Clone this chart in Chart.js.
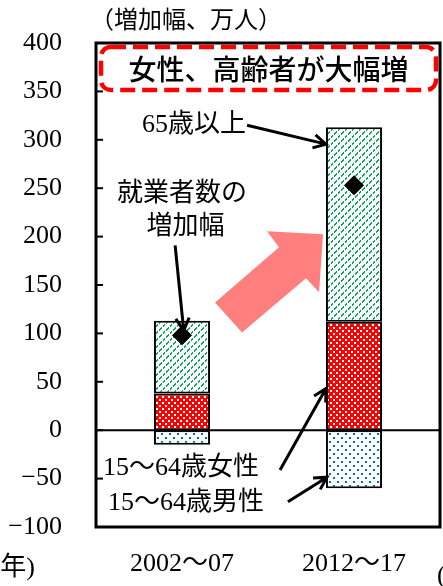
<!DOCTYPE html>
<html lang="ja">
<head>
<meta charset="utf-8">
<script src="https://cdn.jsdelivr.net/npm/chart.js@4.4.1/dist/chart.umd.min.js"></script>
<style>
  html, body { margin: 0; padding: 0; background: #fff; overflow: hidden; }
  #wrap { width: 443px; height: 586px; position: relative; }
  #chart { display: block; }
</style>
</head>
<body>
<div id="wrap"><canvas id="chart"></canvas></div>
<script>
/* 就業者数の増加幅（万人） */
const periods = ["2002〜07", "2012〜17"];
const male1564 = [-15, -60];
const female1564 = [38, 112];
const age65plus = [75, 201];
const employedTotal = [98, 253];
const seriesNames = ["15〜64歳男性", "15〜64歳女性", "65歳以上", "就業者数の増加幅"];
const yMin = -100, yMax = 400, yStep = 50;

const SERIF = "'Liberation Serif', 'Noto Sans CJK JP', serif";
const SANS = "'Noto Sans CJK JP', sans-serif";

const canvas = document.getElementById("chart");
const ctx = canvas.getContext("2d");

function makePattern(size, bg, paint) {
  const c = document.createElement("canvas");
  c.width = size; c.height = size;
  const g = c.getContext("2d");
  g.fillStyle = bg;
  g.fillRect(0, 0, size, size);
  paint(g);
  return ctx.createPattern(c, "repeat");
}

// dotted "/" hatch
const greenPat = makePattern(7, "#fff", g => {
  g.fillStyle = "#00a651";
  for (let x = 0; x < 7; x++)
    for (let y = 0; y < 7; y++)
      if ((x + y) % 7 >= 5 && x % 3 !== 1) g.fillRect(x, y, 1, 1);
});
const redPat = makePattern(6, "#ff0000", g => {
  g.fillStyle = "#fff";
  g.fillRect(0, 0, 2, 2);
  g.fillRect(3, 3, 2, 2);
});
const bluePat = makePattern(8, "#fff", g => {
  g.fillStyle = "#0070c0";
  g.fillRect(1, 1, 2, 2);
  g.fillRect(5, 5, 2, 2);
});

function arrow(c, a, b, head, ang) {
  c.beginPath();
  c.moveTo(a[0], a[1]);
  c.lineTo(b[0], b[1]);
  const t = Math.atan2(b[1] - a[1], b[0] - a[0]);
  c.moveTo(b[0] - head * Math.cos(t - ang), b[1] - head * Math.sin(t - ang));
  c.lineTo(b[0], b[1]);
  c.lineTo(b[0] - head * Math.cos(t + ang), b[1] - head * Math.sin(t + ang));
  c.stroke();
}

// point in data units: xv = 0 at first category, 1 at second
function toPx(chart) {
  const xs = chart.scales.x, ys = chart.scales.y;
  const x0 = xs.getPixelForValue(0), dx = xs.getPixelForValue(1) - x0;
  return (xv, v) => [x0 + xv * dx, ys.getPixelForValue(v)];
}

const deco = {
  id: "deco",
  beforeDatasetsDraw(chart) {
    const c = chart.ctx, a = chart.chartArea, P = toPx(chart);
    c.save();
    // big pink arrow
    const pts = [[0.82, 202.5], [0.494, 205.6], [0.564, 189], [0.192, 132], [0.349, 101], [0.721, 157], [0.797, 142.6]].map(p => P(p[0], p[1]));
    c.fillStyle = "#ff7f7f";
    c.beginPath();
    pts.forEach((p, i) => i ? c.lineTo(p[0], p[1]) : c.moveTo(p[0], p[1]));
    c.closePath();
    c.fill();

    // title box
    const bx = a.left + 5, by = a.top + 4, bw = a.right - a.left - 9, bh = 43;
    c.strokeStyle = "#ff0000";
    c.lineWidth = 4.5;
    c.setLineDash([15, 7]);
    c.beginPath();
    c.roundRect(bx, by, bw, bh, 10);
    c.stroke();
    c.setLineDash([]);
    c.fillStyle = "#000";
    c.textBaseline = "middle";
    c.font = "500 28px " + SANS;
    c.textAlign = "center";
    c.fillText("女性、高齢者が大幅増", bx + bw / 2, by + bh / 2 + 1);
    c.restore();
  },
  afterDatasetsDraw(chart) {
    const c = chart.ctx, a = chart.chartArea, ys = chart.scales.y, P = toPx(chart);
    c.save();

    // zero line
    c.strokeStyle = "#000";
    c.lineWidth = 2;
    c.beginPath();
    c.moveTo(a.left, ys.getPixelForValue(0));
    c.lineTo(a.right, ys.getPixelForValue(0));
    c.stroke();

    // labels
    c.fillStyle = "#000";
    c.textBaseline = "middle";
    c.font = "26px " + SERIF;
    c.textAlign = "right";
    c.fillText(seriesNames[2], P(0.372, 315)[0], P(0, 315)[1]);
    c.textAlign = "center";
    c.fillText("就業者数の", P(0, 244)[0], P(0, 244)[1]);
    c.fillText("増加幅", P(0.02, 210)[0], P(0, 210)[1]);
    c.textAlign = "left";
    c.fillText(seriesNames[1], P(-0.46, -39)[0], P(0, -39)[1]);
    c.fillText(seriesNames[0], P(-0.43, -75)[0], P(0, -75)[1]);

    // pointer arrows
    c.lineWidth = 3;
    c.lineCap = "butt";
    arrow(c, P(0.378, 315), P(0.837, 295.5), 14, 0.5);
    arrow(c, P(-0.04, 191), P(0.01, 103), 14, 0.5);
    arrow(c, P(0.57, -41), P(0.837, 43), 14, 0.5);
    arrow(c, P(0.616, -74), P(0.843, -48.5), 14, 0.5);
    c.restore();
  },
  afterDraw(chart) {
    const c = chart.ctx, a = chart.chartArea, ys = chart.scales.y;
    c.save();
    c.strokeStyle = "#000";
    c.lineWidth = 2;
    for (let v = yMin; v <= yMax; v += yStep) {
      const y = ys.getPixelForValue(v);
      c.beginPath();
      c.moveTo(a.left, y);
      c.lineTo(a.left + 7, y);
      c.stroke();
    }
    c.lineWidth = 3;
    c.strokeRect(a.left, a.top, a.right - a.left, a.bottom - a.top);

    c.fillStyle = "#000";
    c.textBaseline = "middle";
    c.font = "24px " + SERIF;
    c.textAlign = "left";
    c.fillText("（増加幅、万人）", a.left - 6, 22);
    c.font = "26px " + SERIF;
    c.textAlign = "right";
    c.fillText("(年)", 35, 568);
    c.textAlign = "left";
    c.fillText("(", a.right - 3, 576);
    c.restore();
  }
};

new Chart(ctx, {
  type: "bar",
  data: {
    labels: periods,
    datasets: [
      { label: seriesNames[0], data: male1564, backgroundColor: bluePat },
      { label: seriesNames[1], data: female1564, backgroundColor: redPat },
      { label: seriesNames[2], data: age65plus, backgroundColor: greenPat },
      {
        type: "line", label: seriesNames[3], data: employedTotal, order: -1,
        showLine: false, pointStyle: "rectRot", pointRadius: 9.5,
        pointBackgroundColor: "#000", pointBorderColor: "#000"
      }
    ]
  },
  options: {
    responsive: true,
    maintainAspectRatio: false,
    devicePixelRatio: 1,
    animation: false,
    layout: { autoPadding: false, padding: { top: 43, right: 3, left: 0, bottom: 0 } },
    plugins: { legend: { display: false }, tooltip: { enabled: false } },
    datasets: {
      bar: { borderColor: "#000", borderWidth: 2, borderSkipped: false, categoryPercentage: 1, barPercentage: 0.326 }
    },
    scales: {
      x: {
        stacked: true,
        grid: { display: false, drawTicks: false },
        border: { display: false },
        ticks: { color: "#000", font: { family: SERIF, size: 26 }, padding: 22 },
        afterFit(axis) { axis.height = 59; axis.paddingLeft = 0; axis.paddingRight = 0; }
      },
      y: {
        stacked: true,
        min: yMin, max: yMax,
        grid: { display: false, drawTicks: false },
        border: { display: false },
        ticks: {
          stepSize: yStep, color: "#000", font: { family: SERIF, size: 26 }, padding: 34,
          callback: v => String(v).replace("-", "\u2212")
        },
        afterFit(axis) { axis.width = 96; axis.paddingTop = 0; axis.paddingBottom = 0; }
      }
    }
  },
  plugins: [deco]
});
</script>
</body>
</html>
